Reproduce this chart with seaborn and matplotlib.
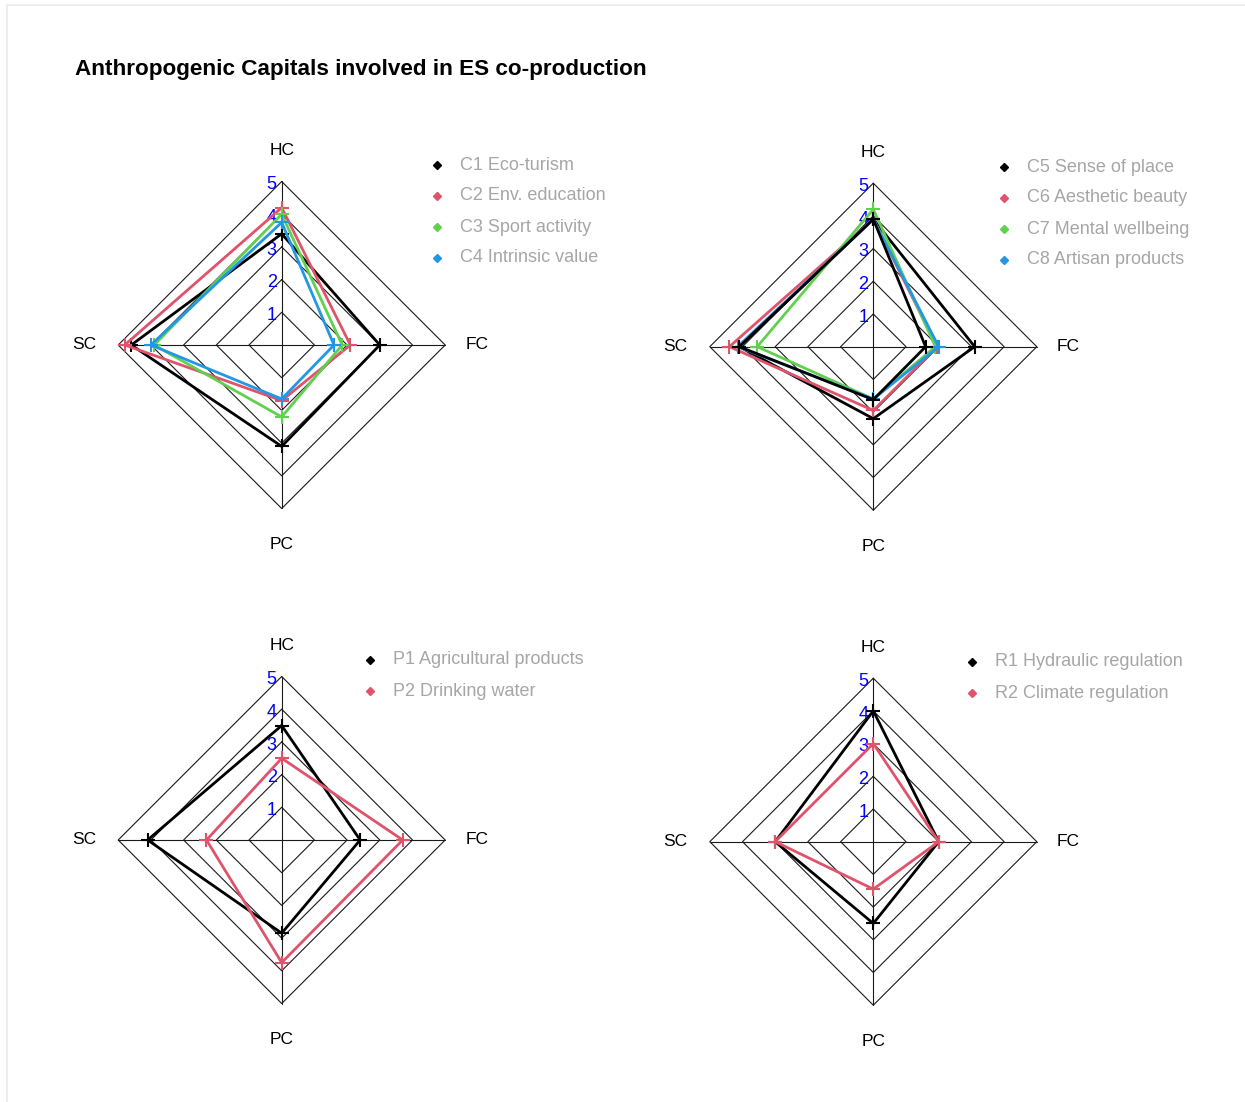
import matplotlib
matplotlib.use("Agg")
import matplotlib.pyplot as plt
from matplotlib.lines import Line2D
import numpy as np
import pandas as pd
import seaborn as sns

# ---- data -------------------------------------------------------------
axes_names = ["HC", "FC", "PC", "SC"]
scale_ticks = [1, 2, 3, 4, 5]

cultural_a_labels = ["C1 Eco-turism", "C2 Env. education", "C3 Sport activity", "C4 Intrinsic value"]
c1_values = [3.4, 3.0, 3.1, 4.6]
c2_values = [4.2, 2.1, 1.7, 4.8]
c3_values = [4.0, 1.85, 2.2, 3.9]
c4_values = [3.75, 1.6, 1.65, 4.0]

cultural_b_labels = ["C5 Sense of place", "C6 Aesthetic beauty", "C7 Mental wellbeing", "C8 Artisan products"]
c5_values = [3.9, 3.1, 2.2, 4.1]
c6_values = [3.9, 1.95, 1.95, 4.4]
c7_values = [4.2, 1.9, 1.6, 3.55]
c8_values = [3.9, 2.0, 1.6, 4.15]
c5_alt_values = [3.9, 1.6, 1.62, 4.1]

provisioning_labels = ["P1 Agricultural products", "P2 Drinking water"]
p1_values = [3.5, 2.4, 2.85, 4.1]
p2_values = [2.5, 3.7, 3.75, 2.3]

regulating_labels = ["R1 Hydraulic regulation", "R2 Climate regulation"]
r1_values = [4.0, 2.0, 2.5, 3.0]
r2_values = [3.0, 2.0, 1.45, 3.0]

series_colors = ["#000000", "#DF536B", "#61D04F", "#2297E6"]

# ---- style ------------------------------------------------------------
sns.set_style("white")
plt.rcParams["font.family"] = ["Liberation Sans", "DejaVu Sans"]

W, H = 1245, 1102
fig = plt.figure(figsize=(W / 100, H / 100), dpi=100)
fig.patch.set_facecolor("white")

# spoke directions for HC, FC, PC, SC
directions = np.array([[0, 1], [1, 0], [0, -1], [-1, 0]], dtype=float)
UNIT = 32.7   # pixels per scale unit
LIM = 6.6


def to_xy(values):
    return directions * np.asarray(values, dtype=float)[:, None]


def radar(cx, cy, series, labels, legend_x, legend_y0):
    size = 2 * LIM * UNIT
    ax = fig.add_axes([(cx - size / 2) / W, (H - cy - size / 2) / H, size / W, size / H])
    ax.set_xlim(-LIM, LIM)
    ax.set_ylim(-LIM, LIM)
    ax.set_aspect("equal")
    ax.axis("off")

    # diamond grid and spokes
    for r in scale_ticks:
        ring = np.vstack([to_xy([r] * 4), to_xy([r] * 4)[:1]])
        ax.plot(ring[:, 0], ring[:, 1], color="#1a1a1a", lw=0.8, zorder=1)
    ax.plot([0, 0], [-5, 5], color="#1a1a1a", lw=0.8, zorder=1)
    ax.plot([-5, 5], [0, 0], color="#1a1a1a", lw=0.8, zorder=1)

    # scale numbers along the HC spoke
    for r in scale_ticks:
        ax.text(-0.15, r - 0.1, str(r), ha="right", va="center",
                color="#0000FF", fontsize=13, zorder=2)

    # spoke labels
    offsets = {"HC": (0, 5.95), "FC": (5.97, 0), "PC": (0, -6.1), "SC": (-6.05, 0)}
    for name in axes_names:
        x, y = offsets[name]
        ax.text(x, y, name, ha="center", va="center", fontsize=12.5, color="black")

    # polygons with vertex markers
    rows = []
    pts_rows = []
    for i, (vals, col) in enumerate(series):
        pts = to_xy(vals)
        closed = np.vstack([pts, pts[:1]])
        for k, (x, y) in enumerate(closed):
            rows.append({"x": x, "y": y, "series": i, "k": k})
        for x, y in pts:
            pts_rows.append({"x": x, "y": y, "series": i})
    df = pd.DataFrame(rows)
    dfp = pd.DataFrame(pts_rows)
    for i, (_, col) in enumerate(series):
        sub = df[df["series"] == i]
        sns.lineplot(data=sub, x="x", y="y", sort=False, estimator=None,
                     color=col, lw=2.0, ax=ax, legend=False, zorder=3 + i)
        subp = dfp[dfp["series"] == i]
        sns.scatterplot(data=subp, x="x", y="y", marker="+", s=90, linewidth=1.5,
                        color=col, ax=ax, legend=False, zorder=3 + i)

    # legend
    for j, lab in enumerate(labels):
        y = legend_y0 + j * 31
        fig.add_artist(Line2D([legend_x / W], [1 - y / H], marker="D", markersize=4.5,
                              color=series_colors[j], linestyle="none",
                              transform=fig.transFigure))
        fig.text((legend_x + 23) / W, 1 - y / H, lab, ha="left", va="center",
                 fontsize=13, color="#A6A6A6")
    return ax


radar(281.7, 345.0,
      [(c1_values, series_colors[0]), (c2_values, series_colors[1]),
       (c3_values, series_colors[2]), (c4_values, series_colors[3])],
      cultural_a_labels, 437, 165)

radar(873.3, 346.7,
      [(c5_values, series_colors[0]), (c6_values, series_colors[1]),
       (c7_values, series_colors[2]), (c8_values, series_colors[3]),
       (c5_alt_values, series_colors[0])],
      cultural_b_labels, 1004, 167)

radar(281.7, 840.0,
      [(p1_values, series_colors[0]), (p2_values, series_colors[1])],
      provisioning_labels, 370, 660)

radar(873.3, 841.7,
      [(r1_values, series_colors[0]), (r2_values, series_colors[1])],
      regulating_labels, 972, 662)

fig.text(75 / W, 1 - 69 / H, "Anthropogenic Capitals involved in ES co-production",
         ha="left", va="center", fontsize=16.2, fontweight="bold", color="black")

# thin frame lines along the top and left edges
fig.add_artist(Line2D([7 / W, 1.0], [1 - 5 / H, 1 - 5 / H], color="#EDEDED", lw=1.5,
                      transform=fig.transFigure))
fig.add_artist(Line2D([7 / W, 7 / W], [0.0, 1 - 5 / H], color="#EDEDED", lw=1.5,
                      transform=fig.transFigure))

fig.savefig("out.png", dpi=100, facecolor="white")
